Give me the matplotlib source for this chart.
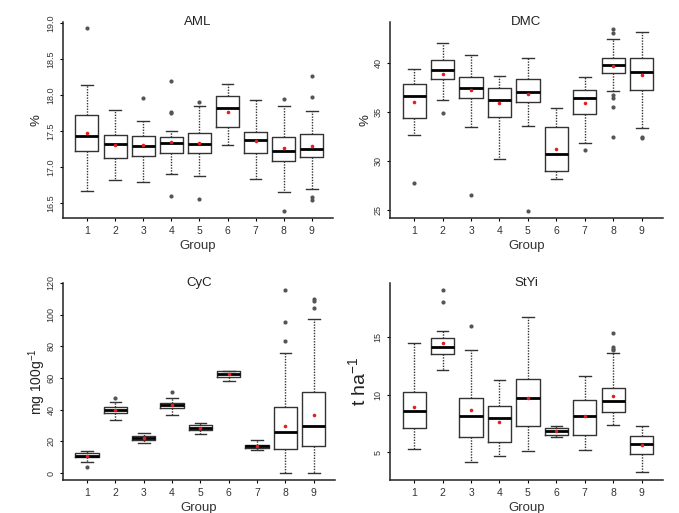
import matplotlib
matplotlib.use("Agg")
import matplotlib.pyplot as plt

plt.rcParams['font.family'] = ['Liberation Sans', 'DejaVu Sans']
plt.rcParams['mathtext.fontset'] = 'custom'
plt.rcParams['mathtext.rm'] = 'Liberation Sans'
plt.rcParams['mathtext.it'] = 'Liberation Sans:italic'
plt.rcParams['mathtext.default'] = 'regular'

groups = [1, 2, 3, 4, 5, 6, 7, 8, 9]

# AML (%)
aml_low = [16.66, 16.82, 16.79, 16.90, 16.88, 17.31, 16.83, 16.65, 16.69]
aml_q1 = [17.22, 17.12, 17.16, 17.20, 17.20, 17.56, 17.19, 17.09, 17.14]
aml_med = [17.43, 17.32, 17.29, 17.33, 17.32, 17.82, 17.37, 17.23, 17.25]
aml_q3 = [17.73, 17.44, 17.43, 17.42, 17.48, 17.99, 17.49, 17.42, 17.46]
aml_high = [18.14, 17.80, 17.64, 17.50, 17.85, 18.15, 17.93, 17.85, 17.78]
aml_mean = [17.48, 17.30, 17.31, 17.35, 17.34, 17.76, 17.36, 17.27, 17.29]
aml_out = [[18.93], [], [17.96], [18.20, 17.77, 17.75, 16.60], [17.90, 16.56],
           [], [], [17.95, 16.39], [18.27, 17.98, 16.58, 16.54]]

# DMC (%)
dmc_low = [32.67, 36.23, 33.49, 30.19, 33.59, 28.16, 31.79, 37.18, 33.38]
dmc_q1 = [34.37, 38.34, 36.47, 34.50, 36.03, 29.01, 34.77, 38.95, 37.29]
dmc_med = [36.64, 39.29, 37.49, 36.20, 37.08, 30.70, 36.47, 39.76, 39.12]
dmc_q3 = [37.83, 40.27, 38.57, 37.49, 38.34, 33.45, 37.22, 40.54, 40.51]
dmc_high = [39.39, 42.04, 40.88, 38.68, 40.51, 35.39, 38.61, 42.48, 43.19]
dmc_mean = [36.03, 38.91, 37.29, 35.93, 36.84, 31.25, 35.93, 39.73, 38.78]
dmc_out = [[27.78], [34.94], [26.53], [], [24.93], [], [31.11],
           [43.50, 43.09, 36.70, 36.47, 35.52, 32.47], [32.47, 32.33]]

# CyC (mg 100g-1)
cyc_low = [6.8, 33.8, 19.0, 36.8, 24.9, 58.3, 14.6, 0.2, 0.2]
cyc_q1 = [9.9, 38.2, 20.9, 40.8, 27.0, 60.4, 16.1, 15.2, 16.9]
cyc_med = [11.0, 39.7, 22.2, 42.7, 28.7, 62.7, 17.1, 25.6, 29.4]
cyc_q3 = [12.9, 42.0, 23.7, 44.4, 30.4, 64.2, 18.0, 41.6, 51.1]
cyc_high = [14.2, 44.8, 25.4, 47.5, 31.9, 64.6, 20.7, 75.8, 97.0]
cyc_mean = [10.6, 39.9, 22.2, 42.9, 28.5, 62.3, 17.1, 30.0, 36.6]
cyc_out = [[3.6], [47.5], [], [50.9], [], [], [],
           [115.4, 95.5, 83.5], [110.1, 108.4, 104.4]]

# StYi (t ha-1)
styi_low = [5.26, 12.10, 4.16, 4.62, 5.06, 6.30, 5.14, 7.32, 3.26]
styi_q1 = [7.09, 13.52, 6.30, 5.84, 7.29, 6.45, 6.45, 8.45, 4.86]
styi_med = [8.59, 14.13, 8.16, 7.93, 9.70, 6.80, 8.10, 9.41, 5.72]
styi_q3 = [10.19, 14.94, 9.72, 8.97, 11.38, 7.09, 9.55, 10.57, 6.36]
styi_high = [14.48, 15.52, 13.90, 11.29, 16.74, 7.23, 11.64, 13.64, 7.23]
styi_mean = [8.88, 14.45, 8.65, 7.61, 9.72, 6.80, 8.10, 9.84, 5.61]
styi_out = [[], [19.06, 18.01], [15.96], [], [], [], [],
            [15.35, 14.10, 14.00, 13.90], []]


def make_stats(low, q1, med, q3, high, mean, out):
    stats = []
    for i in range(len(groups)):
        stats.append(dict(whislo=low[i], q1=q1[i], med=med[i], q3=q3[i],
                          whishi=high[i], mean=mean[i], fliers=out[i]))
    return stats


# title, y label, stats, ylim, yticks, ytick labels, axes box in px, ylabel size, ylabel centre x (px)
panels = [
    ("AML", "%", make_stats(aml_low, aml_q1, aml_med, aml_q3, aml_high, aml_mean, aml_out),
     (16.29, 19.02), [16.5, 17.0, 17.5, 18.0, 18.5, 19.0], ["16.5", "17.0", "17.5", "18.0", "18.5", "19.0"],
     [63, 22, 333, 218], 9.5, 36),
    ("DMC", "%", make_stats(dmc_low, dmc_q1, dmc_med, dmc_q3, dmc_high, dmc_mean, dmc_out),
     (24.18, 44.2), [25, 30, 35, 40], ["25", "30", "35", "40"],
     [390, 22, 663, 218], 9.5, 366),
    ("CyC", "mg 100g$^{-1}$", make_stats(cyc_low, cyc_q1, cyc_med, cyc_q3, cyc_high, cyc_mean, cyc_out),
     (-4.4, 120), [0, 20, 40, 60, 80, 100, 120], ["0", "20", "40", "60", "80", "100", "120"],
     [63, 283, 335, 480], 10, 37),
    ("StYi", "t ha$^{-1}$", make_stats(styi_low, styi_q1, styi_med, styi_q3, styi_high, styi_mean, styi_out),
     (2.57, 19.7), [5, 10, 15], ["5", "10", "15"],
     [390, 283, 663, 480], 14, 358),
]

W, H = 679, 513
fig = plt.figure(figsize=(W / 100, H / 100), dpi=100)

for title, ylab, stats, ylim, yt, ytl, box, ylsize, ylx in panels:
    x0, y0, x1, y1 = box
    ax = fig.add_axes([x0 / W, 1 - y1 / H, (x1 - x0) / W, (y1 - y0) / H])
    ax.bxp(stats, positions=groups, widths=0.82, showmeans=True,
           boxprops=dict(color='#333333', linewidth=1.0),
           whiskerprops=dict(color='#333333', linewidth=1.0, linestyle=(0, (1, 1))),
           capprops=dict(color='#333333', linewidth=1.0),
           medianprops=dict(color='black', linewidth=2.0),
           meanprops=dict(marker='o', markerfacecolor='#e02020', markeredgecolor='none', markersize=2.6),
           flierprops=dict(marker='o', markerfacecolor='#555555', markeredgecolor='none', markersize=3.0))
    ax.set_xlim(0.15, 9.75)
    ax.set_ylim(*ylim)
    ax.set_yticks(yt)
    ax.set_yticklabels(ytl, rotation=90, va='center', fontsize=6.5, color='#333333')
    ax.set_xticks(groups)
    ax.set_xticklabels([str(g) for g in groups], fontsize=7.5, color='#333333')
    ax.tick_params(length=2.5, width=0.8, pad=3)
    ax.spines['top'].set_visible(False)
    ax.spines['right'].set_visible(False)
    for s in ('left', 'bottom'):
        ax.spines[s].set_linewidth(1.1)
        ax.spines[s].set_color('#222222')
    ax.set_xlabel("Group", fontsize=9.5, color='#333333', labelpad=3)
    ax.set_ylabel(ylab, fontsize=ylsize, color='#222222')
    ax.yaxis.label.set_va('center')
    ax.yaxis.set_label_coords((ylx - x0) / (x1 - x0), 0.5)
    ax.text(0.5, 1.0, title, transform=ax.transAxes, ha='center', va='center',
            fontsize=9.5, color='#222222')

fig.savefig("out.png", dpi=100)
